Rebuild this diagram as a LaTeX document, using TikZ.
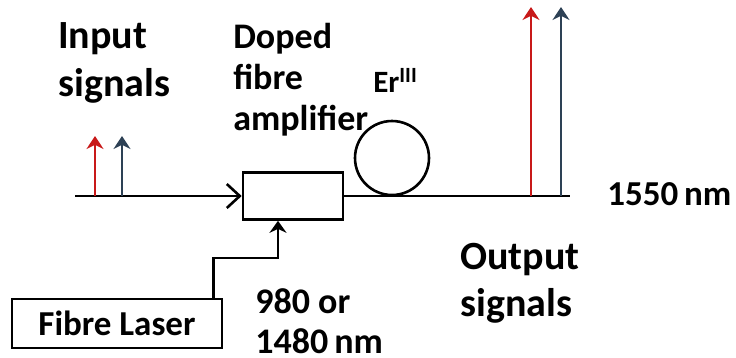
\documentclass[tikz,border=0pt]{standalone}
\usepackage{fontspec}
\setmainfont{Carlito}
\usetikzlibrary{arrows.meta}
\definecolor{sigred}{RGB}{200,25,25}
\definecolor{sigblue}{RGB}{45,65,85}
\begin{document}
\begin{tikzpicture}[x=1pt,y=-1pt,
  line width=2.6pt,
  lbl/.style={inner sep=0pt, align=left, anchor=north west},
  boxst/.style={draw, line width=2.6pt, inner sep=0pt},
  sig/.style={line width=2.8pt, -{Stealth[length=13pt,width=17pt]}},
  pumparrow/.style={-{Stealth[length=12pt,width=17pt]}},
  inarrow/.style={-{Straight Barb[length=13pt,width=24pt]}}]
\useasboundingbox (0,0) rectangle (736,357);

% components
\node[boxst, minimum width=100pt, minimum height=47pt] (amp) at (293,196) {};
\node[boxst, minimum width=210pt, minimum height=49pt,
      font=\fontsize{35}{40}\selectfont\bfseries] (laser) at (117,323.5) {Fibre Laser};
\node[draw, circle, minimum size=74pt, inner sep=0pt] (coil) at (392,158) {};

% fibre line
\coordinate (inA) at (75,196);
\coordinate (outB) at (570,196);
\draw[inarrow] (inA) -- (amp.west);
\draw (amp.east) -- (outB);

% pump
\coordinate (lp) at ([xshift=-10pt]laser.north east);
\coordinate (pb) at (278,258);
\draw[pumparrow] (lp) |- (pb) -- (pb |- amp.south);

% input signals
\coordinate (ir) at (95,196);  \coordinate (irt) at (95,136);
\coordinate (ib) at (122,196); \coordinate (ibt) at (122,136);
\draw[sig, sigred] (ir) -- (irt);
\draw[sig, sigblue] (ib) -- (ibt);

% output signals
\coordinate (or) at (531,196); \coordinate (ort) at (531,7);
\coordinate (ob) at (561,196); \coordinate (obt) at (561,7);
\draw[sig, sigred] (or) -- (ort);
\draw[sig, sigblue] (ob) -- (obt);

% labels
\node[lbl, font=\fontsize{40}{48}\selectfont\bfseries] (inlbl) at (57,21) {Input\\signals};
\node[lbl, font=\fontsize{36}{41}\selectfont\bfseries] (doped) at (232,22) {Doped\\fibre\\amplifier};
\node[inner sep=0pt, anchor=base west, font=\fontsize{31}{34}\selectfont\bfseries] (er) at (372,92) {Er\textsuperscript{III}};
\node[inner sep=0pt, anchor=base west, font=\fontsize{35}{40}\selectfont\bfseries] (lam) at (606,205) {1550\,nm};
\node[lbl, font=\fontsize{40}{47}\selectfont\bfseries] (outlbl) at (459,242) {Output\\signals};
\node[lbl, font=\fontsize{36}{40}\selectfont\bfseries] (pumpl) at (254,287) {980 or\\1480\,nm};
\end{tikzpicture}
\end{document}
